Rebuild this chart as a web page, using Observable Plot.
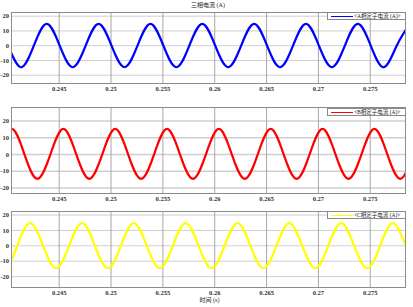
<!DOCTYPE html>
<html>
<head>
<meta charset="utf-8">
<script src="https://cdn.jsdelivr.net/npm/d3@7"></script>
<script src="https://cdn.jsdelivr.net/npm/@observablehq/plot@0.6"></script>
<style>
  html, body { margin: 0; padding: 0; background: #fff; }
  #wrap { position: relative; width: 413px; height: 307px; overflow: hidden; background: #fff; }
  #wrap svg { position: absolute; left: 0; top: 0; }
  .txt { position: absolute; font-family: "Liberation Serif", "Noto Sans CJK SC", serif; color: #222; white-space: nowrap; line-height: 1; }
  .leg { position: absolute; box-sizing: border-box; border: 1px solid #8a8a8a; background: #fff; height: 8px; width: 79px; }
  .leg .ln { position: absolute; left: 3px; top: 3px; width: 22px; height: 0; border-top: 1px solid; }
  .leg .lt { position: absolute; left: 26px; top: 0px; font-family: "Liberation Serif", "Noto Sans CJK SC", serif; font-size: 5.5px; line-height: 6px; color: #222; white-space: nowrap; }
</style>
</head>
<body>
<div id="wrap"></div>
<script>
// ---- data ----
const xTicks = [0.245, 0.25, 0.255, 0.26, 0.265, 0.27, 0.275];
const xTickLabels = ["0.245", "0.25", "0.255", "0.26", "0.265", "0.27", "0.275"];
const yTicks = [-20, -10, 0, 10, 20];
const yTickLabels = ["-20", "-10", "0", "10", "20"];

const seriesNames = ["<A相定子电流 (A)>", "<B相定子电流 (A)>", "<C相定子电流 (A)>"];
const seriesColors = ["#0000ff", "#ff0000", "#ffff00"];

// phase A: time (s) and current (A) at peaks, zero crossings, troughs
const tA = [0.2388, 0.24005, 0.2413, 0.24255, 0.2438, 0.24505, 0.2463, 0.24755, 0.2488, 0.25005, 0.2513, 0.25255,
  0.2538, 0.25505, 0.2563, 0.25755, 0.2588, 0.26005, 0.2613, 0.26255, 0.2638, 0.26505, 0.2663, 0.26755,
  0.2688, 0.27005, 0.2713, 0.27255, 0.2738, 0.27505, 0.2763, 0.27755, 0.2788];
const iA = [14.8, 0, -14.6, 0, 14.8, 0, -14.6, 0, 14.8, 0, -14.6, 0,
  14.8, 0, -14.6, 0, 14.8, 0, -14.6, 0, 14.8, 0, -14.6, 0,
  14.8, 0, -14.6, 0, 14.8, 0, -14.6, 0, 14.8];

// phase B
const tB = [0.2379, 0.23915, 0.2404, 0.24165, 0.2429, 0.24415, 0.2454, 0.24665, 0.2479, 0.24915, 0.2504, 0.25165,
  0.2529, 0.25415, 0.2554, 0.25665, 0.2579, 0.25915, 0.2604, 0.26165, 0.2629, 0.26415, 0.2654, 0.26665,
  0.2679, 0.26915, 0.2704, 0.27165, 0.2729, 0.27415, 0.2754, 0.27665, 0.2779, 0.27915];
const iB = [-14.6, 0, 15.2, 0, -14.6, 0, 15.2, 0, -14.6, 0, 15.2, 0,
  -14.6, 0, 15.2, 0, -14.6, 0, 15.2, 0, -14.6, 0, 15.2, 0,
  -14.6, 0, 15.2, 0, -14.6, 0, 15.2, 0, -14.6, 0];

// phase C
const tC = [0.2372, 0.23845, 0.2397, 0.24095, 0.2422, 0.24345, 0.2447, 0.24595, 0.2472, 0.24845, 0.2497, 0.25095,
  0.2522, 0.25345, 0.2547, 0.25595, 0.2572, 0.25845, 0.2597, 0.26095, 0.2622, 0.26345, 0.2647, 0.26595,
  0.2672, 0.26845, 0.2697, 0.27095, 0.2722, 0.27345, 0.2747, 0.27595, 0.2772, 0.27845, 0.2797];
const iC = [14.8, 0, -14.6, 0, 14.8, 0, -14.6, 0, 14.8, 0, -14.6, 0,
  14.8, 0, -14.6, 0, 14.8, 0, -14.6, 0, 14.8, 0, -14.6, 0,
  14.8, 0, -14.6, 0, 14.8, 0, -14.6, 0, 14.8, 0, -14.6];

const xDomain = [0.2404, 0.2784];
const yDomains = [[-25.6, 22.5], [-23.3, 28], [-27.1, 22.3]];

// ---- layout ----
const W = 413, H = 307;
const panels = [
  {t: tA, v: iA, top: 12, bottom: 83, legTop: 12},
  {t: tB, v: iB, top: 107, bottom: 193, legTop: 107.5},
  {t: tC, v: iC, top: 211, bottom: 287, legTop: 211}
];
const wrap = document.getElementById("wrap");

panels.forEach((p, k) => {
  const data = p.t.map((t, i) => ({t, v: p.v[i]}));
  const chart = Plot.plot({
    width: W, height: H,
    marginLeft: 11, marginRight: 8, marginTop: p.top, marginBottom: H - p.bottom,
    x: {domain: xDomain, ticks: xTicks, tickFormat: d => xTickLabels[xTicks.indexOf(d)], tickSize: 0, tickPadding: 3, label: null},
    y: {domain: yDomains[k], ticks: yTicks, tickFormat: d => yTickLabels[yTicks.indexOf(d)], tickSize: 0, tickPadding: 2.5, label: null},
    style: {background: "transparent", fontFamily: "Liberation Serif, serif", fontSize: "6.5px", fontWeight: "bold", color: "#333", overflow: "visible"},
    marks: [
      Plot.gridY(yTicks, {stroke: "#cfcfcf", strokeOpacity: 1, strokeWidth: k === 1 ? 1.5 : 1}),
      Plot.gridX(xTicks, {stroke: "#a8a8a8", strokeOpacity: 1}),
      Plot.line(data, {x: "t", y: "v", stroke: seriesColors[k], strokeWidth: 2.2, curve: "natural", clip: true}),
      Plot.frame({stroke: "#8c8c8c"})
    ]
  });
  wrap.appendChild(chart);

  const leg = document.createElement("div");
  leg.className = "leg";
  leg.style.left = "327px";
  leg.style.top = p.legTop + "px";
  const ln = document.createElement("div");
  ln.className = "ln";
  ln.style.borderTopColor = seriesColors[k];
  const lt = document.createElement("div");
  lt.className = "lt";
  lt.textContent = seriesNames[k];
  leg.appendChild(ln);
  leg.appendChild(lt);
  wrap.appendChild(leg);
});

const title = document.createElement("div");
title.className = "txt";
title.textContent = "三相电流 (A)";
title.style.fontSize = "6px";
title.style.top = "2px";
title.style.left = "0px";
title.style.width = "413px";
title.style.textAlign = "center";
title.style.paddingLeft = "3px";
title.style.boxSizing = "border-box";
wrap.appendChild(title);

const xl = document.createElement("div");
xl.className = "txt";
xl.textContent = "时间 (s)";
xl.style.fontSize = "6px";
xl.style.top = "297px";
xl.style.left = "0px";
xl.style.width = "413px";
xl.style.textAlign = "center";
xl.style.paddingLeft = "6px";
xl.style.boxSizing = "border-box";
wrap.appendChild(xl);
</script>
</body>
</html>
